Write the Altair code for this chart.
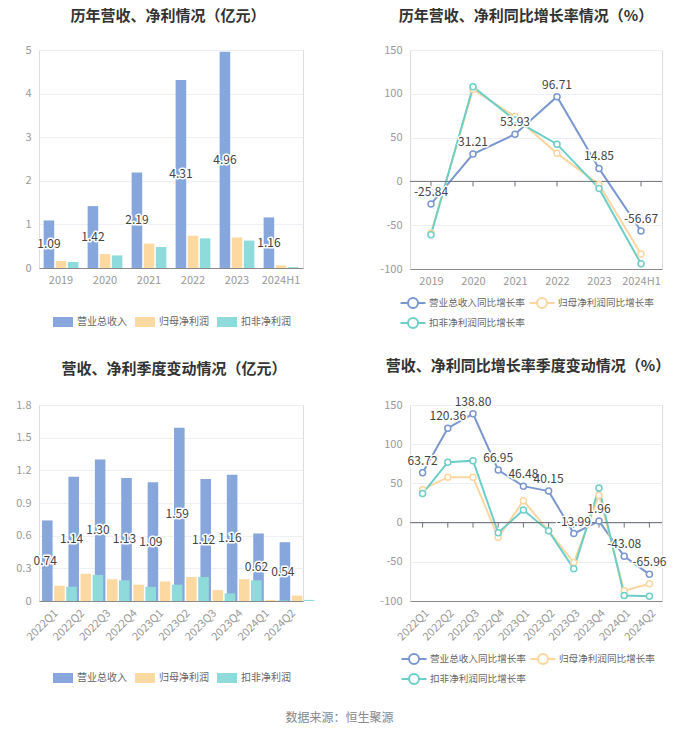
import altair as alt
import pandas as pd

FONT = "Noto Sans CJK SC"

years = ["2019", "2020", "2021", "2022", "2023", "2024H1"]
rev_y = [1.09, 1.42, 2.19, 4.31, 4.96, 1.16]
np_y = [0.16, 0.32, 0.56, 0.74, 0.70, 0.06]
kf_y = [0.14, 0.29, 0.48, 0.68, 0.63, 0.02]

rev_g = [-25.84, 31.21, 53.93, 96.71, 14.85, -56.67]
np_g = [-59, 105, 74, 32, -3.5, -83]
kf_g = [-61, 108, 70, 42.5, -8, -94]

quarters = ["2022Q1", "2022Q2", "2022Q3", "2022Q4", "2023Q1",
            "2023Q2", "2023Q3", "2023Q4", "2024Q1", "2024Q2"]
rev_q = [0.74, 1.14, 1.30, 1.13, 1.09, 1.59, 1.12, 1.16, 0.62, 0.54]
np_q = [0.14, 0.25, 0.20, 0.15, 0.18, 0.22, 0.10, 0.20, 0.01, 0.05]
kf_q = [0.13, 0.24, 0.19, 0.13, 0.15, 0.22, 0.07, 0.19, 0.005, 0.01]

rev_qg = [63.72, 120.36, 138.80, 66.95, 46.48, 40.15, -13.99, 1.96, -43.08, -65.96]
np_qg = [42, 58, 58, -19, 28, -10.5, -51, 35, -87, -78]
kf_qg = [37, 77, 79, -13, 16, -10.5, -59, 44, -93, -94]

bar_series = ["营业总收入", "归母净利润", "扣非净利润"]
line_series = ["营业总收入同比增长率", "归母净利润同比增长率", "扣非净利润同比增长率"]
BAR_COLORS = ["#87a7dc", "#fdd9a2", "#8fdada"]
LINE_COLORS = ["#7b97d0", "#fcd6a0", "#6dcec8"]

RECT = "M-1,-0.5H1V0.5H-1Z"
LINESYM = "M-1.25,0H-0.5M0.5,0H1.25M-0.5,0A0.5,0.5,0,1,0,0.5,0A0.5,0.5,0,1,0,-0.5,0"


def long_df(cats, series, arrays):
    rows = []
    for s, arr in zip(series, arrays):
        for c, v in zip(cats, arr):
            rows.append({"cat": c, "series": s, "value": v, "label": f"{v:.2f}"})
    return pd.DataFrame(rows)


def title_params(text, offset, dx):
    return alt.TitleParams(text, anchor="middle", frame="group", fontSize=15,
                           fontWeight="bold", color="#333333", font=FONT,
                           offset=offset, dx=dx)


def x_axis(rotate):
    if rotate:
        return alt.Axis(labelAngle=-45, ticks=False, domainColor="#8a8a8a",
                        labelColor="#999999", labelFontSize=11, labelPadding=6,
                        labelFont=FONT, labelOverlap=False)
    return alt.Axis(labelAngle=0, labelAlign="center", labelFlush=False, ticks=False,
                    domainColor="#8a8a8a", labelColor="#999999", labelFontSize=11,
                    labelPadding=6, labelFont=FONT, labelOverlap=False)


def bar_panel(title, cats, arrays, ymax, ticks, w, h, pad_in, off_pi, label_dx,
              rotate, legend_x, legend_y, title_offset, y_extent, dx):
    df = long_df(cats, bar_series, arrays)
    x = alt.X("cat:N", sort=cats, title=None,
              scale=alt.Scale(paddingInner=pad_in, paddingOuter=pad_in / 2),
              axis=x_axis(rotate))
    xo = alt.XOffset("series:N", sort=bar_series,
                     scale=alt.Scale(domain=bar_series, paddingInner=off_pi,
                                     paddingOuter=0))
    y = alt.Y("value:Q", title=None,
              scale=alt.Scale(domain=[0, ymax], nice=False, zero=True),
              axis=alt.Axis(values=ticks, tickCount=len(ticks), domain=False,
                            ticks=False, gridColor="#eceff3", labelColor="#999999",
                            labelFontSize=11, labelPadding=8, labelFont=FONT,
                            labelOverlap=False, labelExpr="toString(datum.value)",
                            minExtent=y_extent, maxExtent=y_extent))
    color = alt.Color("series:N", sort=bar_series,
                      scale=alt.Scale(domain=bar_series, range=BAR_COLORS),
                      legend=alt.Legend(title=None, orient="none", legendX=legend_x,
                                        legendY=legend_y, direction="horizontal",
                                        symbolType=RECT, symbolSize=400,
                                        symbolStrokeWidth=0, labelFontSize=10,
                                        labelFont=FONT, labelColor="#666666",
                                        columnPadding=8, labelOffset=4))
    bars = alt.Chart(df).mark_bar().encode(x=x, xOffset=xo, y=y, color=color)
    lab = alt.Chart(df).transform_filter(
        alt.datum.series == bar_series[0]).transform_calculate(mid="datum.value/2")
    enc = dict(x=alt.X("cat:N", sort=cats, title=None, bandPosition=0.5),
               y=alt.Y("mid:Q", title=None),
               text=alt.Text("label:N"))
    halo = lab.mark_text(fontSize=12, font=FONT, stroke="white", strokeWidth=3,
                         strokeJoin="round", color="white", dx=label_dx).encode(**enc)
    txt = lab.mark_text(fontSize=12, font=FONT, color="#444444",
                        dx=label_dx).encode(**enc)
    return alt.layer(bars, halo, txt).properties(
        width=w, height=h, title=title_params(title, title_offset, dx))


def line_panel(title, cats, arrays, w, h, rotate, legend_x, legend_y,
               title_offset, y_extent, dx):
    df = long_df(cats, line_series, arrays)
    xscale = alt.Scale(type="point", padding=0.5)
    x = alt.X("cat:N", sort=cats, title=None, scale=xscale, axis=x_axis(rotate))
    ticks = [-100, -50, 0, 50, 100, 150]
    y = alt.Y("value:Q", title=None,
              scale=alt.Scale(domain=[-100, 150], nice=False),
              axis=alt.Axis(values=ticks, tickCount=len(ticks), domain=False,
                            ticks=False, gridColor="#eceff3", labelColor="#999999",
                            labelFontSize=11, labelPadding=8, labelFont=FONT,
                            labelOverlap=False, labelExpr="toString(datum.value)",
                            minExtent=y_extent, maxExtent=y_extent))
    cscale = alt.Scale(domain=line_series, range=LINE_COLORS)
    color = alt.Color("series:N", sort=line_series, scale=cscale,
                      legend=alt.Legend(title=None, orient="none", legendX=legend_x,
                                        legendY=legend_y, direction="horizontal",
                                        columns=2, symbolType=LINESYM, symbolSize=400,
                                        symbolStrokeWidth=2, symbolFillColor="white",
                                        labelFontSize=9.6, labelFont=FONT,
                                        labelColor="#666666", columnPadding=0,
                                        rowPadding=0, labelOffset=5))
    base = alt.Chart(df)
    xa = alt.X("cat:N", sort=cats, title=None)
    ya = alt.Y("value:Q", title=None)
    line = base.mark_line(strokeWidth=2).encode(x=x, y=y, color=color)
    zero = alt.Chart(pd.DataFrame({"z": [0]})).mark_rule(
        color="#6e7079", strokeWidth=1).encode(y=alt.Y("z:Q", title=None))
    tick_df = pd.DataFrame({"cat": cats, "z": [0] * len(cats)})
    tks = alt.Chart(tick_df).mark_rule(color="#6e7079", y2Offset=5).encode(
        x=xa, y=alt.Y("z:Q", title=None), y2="z:Q")
    pts = base.mark_point(shape="circle", filled=True, fill="white", size=36,
                          strokeWidth=1.5, opacity=1).encode(
        x=xa, y=ya,
        stroke=alt.Stroke("series:N", sort=line_series, scale=cscale, legend=None))
    lab = base.transform_filter(alt.datum.series == line_series[0])
    enc = dict(x=xa, y=ya, text=alt.Text("label:N"))
    halo = lab.mark_text(fontSize=12, font=FONT, baseline="bottom", dy=-5,
                         stroke="white", strokeWidth=3, strokeJoin="round",
                         color="white").encode(**enc)
    txt = lab.mark_text(fontSize=12, font=FONT, baseline="bottom", dy=-5,
                        color="#444444").encode(**enc)
    return alt.layer(line, zero, tks, pts, halo, txt).properties(
        width=w, height=h, title=title_params(title, title_offset, dx))


tl = bar_panel("历年营收、净利情况（亿元）", years, [rev_y, np_y, kf_y], 5,
               [0, 1, 2, 3, 4, 5], 264, 218, 0.21, 0.125, -12.1, False,
               14, 262, 20, 30, -3)
tr = line_panel("历年营收、净利同比增长率情况（%）", years, [rev_g, np_g, kf_g],
                252, 219, False, -8, 242, 20, 30, -10)
bl = bar_panel("营收、净利季度变动情况（亿元）", quarters, [rev_q, np_q, kf_q], 1.8,
               [0, 0.3, 0.6, 0.9, 1.2, 1.5, 1.8], 264, 196, 0.23, 0.1, -7.0, True,
               14, 263, 22, 30, 3)
br = line_panel("营收、净利同比增长率季度变动情况（%）", quarters,
                [rev_qg, np_qg, kf_qg], 252, 196, True, -7, 243, 22, 30, -8)

top = alt.hconcat(tl, tr, spacing=75).resolve_scale(
    color="independent", stroke="independent").resolve_legend(color="independent")
bottom = alt.hconcat(bl, br, spacing=64).resolve_scale(
    color="independent", stroke="independent").resolve_legend(color="independent")

chart = alt.vconcat(top, bottom, spacing=25).resolve_scale(
    color="independent", stroke="independent").resolve_legend(
    color="independent").properties(
    padding=0,
    title=alt.TitleParams("数据来源：恒生聚源", orient="bottom", anchor="middle",
                          fontSize=12, fontWeight="normal", color="#888888",
                          font=FONT, offset=24)
).configure_view(stroke=None).configure(background="white")

chart.save("out.html", embed_options={"renderer": "svg", "actions": False})
